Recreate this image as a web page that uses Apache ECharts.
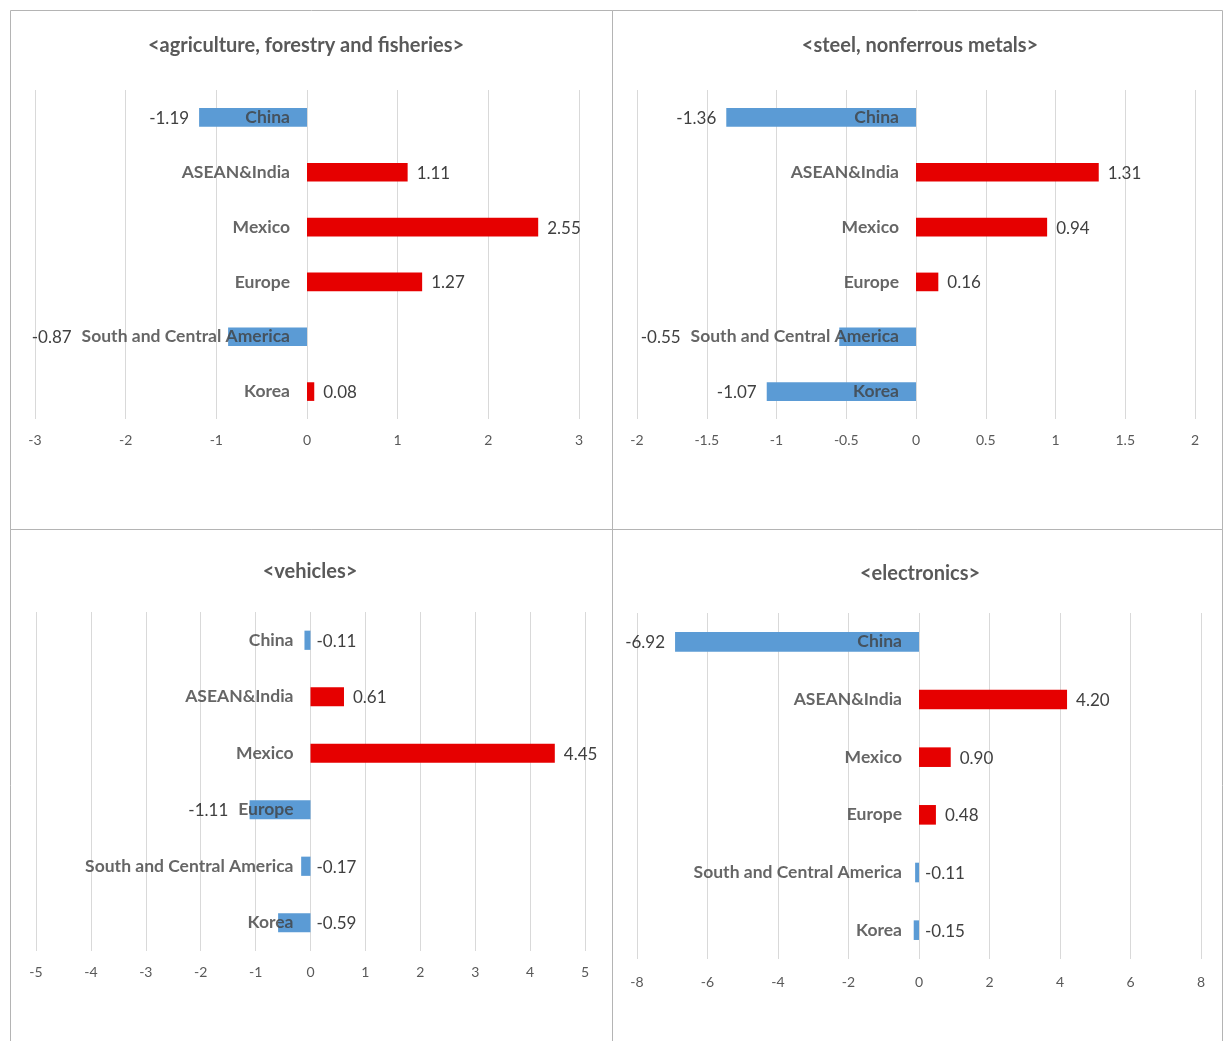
<!DOCTYPE html>
<html>
<head>
<meta charset="utf-8">
<script src="https://cdn.jsdelivr.net/npm/echarts@6/dist/echarts.min.js"></script>
<style>
html,body{margin:0;padding:0;background:#fff;}
#chart{width:1224px;height:1041px;}
</style>
</head>
<body>
<div id="chart"></div>
<script>
const categories = ['China', 'ASEAN&India', 'Mexico', 'Europe', 'South and Central America', 'Korea'];
const titles = ['<agriculture, forestry and fisheries>', '<steel, nonferrous metals>', '<vehicles>', '<electronics>'];
const agricultureValues = [-1.19, 1.11, 2.55, 1.27, -0.87, 0.08];
const steelValues = [-1.36, 1.31, 0.94, 0.16, -0.55, -1.07];
const vehicleValues = [-0.11, 0.61, 4.45, -1.11, -0.17, -0.59];
const electronicsValues = [-6.92, 4.20, 0.90, 0.48, -0.11, -0.15];
const axisMin = [-3, -2, -5, -8];
const axisMax = [3, 2, 5, 8];
const axisStep = [1, 0.5, 1, 2];

const panelValues = [agricultureValues, steelValues, vehicleValues, electronicsValues];

const FONT = "Lato, 'Noto Sans', sans-serif";
const BLUE = '#5B9BD5', RED = '#E60000';
const CAT_SIZE = 17.5, VAL_SIZE = 17, CAT_MARGIN = 17;

const grids = [
  {left: 35, right: 645, top: 90, bottom: 622},
  {left: 637, right: 29, top: 90, bottom: 622},
  {left: 36, right: 639, top: 612, bottom: 90},
  {left: 637, right: 23, top: 613, bottom: 82}
];
const titlePos = [[301, 31], [915, 31], [305, 557], [915, 559]];
const tickMargin = [14, 14, 14, 16];

const chart = echarts.init(document.getElementById('chart'));

function makeOption(labelSets) {
  return {
    backgroundColor: '#fff',
    animation: false,
    textStyle: {fontFamily: FONT},
    title: titles.map((t, i) => ({
      text: t,
      left: titlePos[i][0],
      top: titlePos[i][1],
      textAlign: 'center',
      textStyle: {fontFamily: FONT, fontSize: 20, fontWeight: 'bold', color: '#595959'}
    })),
    graphic: [
      {type: 'rect', shape: {x: 10.5, y: 10.5, width: 602, height: 519}, style: {fill: 'none', stroke: '#b4b4b4', lineWidth: 1}, z: -1},
      {type: 'rect', shape: {x: 612.5, y: 10.5, width: 610, height: 519}, style: {fill: 'none', stroke: '#b4b4b4', lineWidth: 1}, z: -1},
      {type: 'rect', shape: {x: 10.5, y: 529.5, width: 602, height: 520}, style: {fill: 'none', stroke: '#b4b4b4', lineWidth: 1}, z: -1},
      {type: 'rect', shape: {x: 612.5, y: 529.5, width: 610, height: 520}, style: {fill: 'none', stroke: '#b4b4b4', lineWidth: 1}, z: -1}
    ],
    grid: grids.map(g => Object.assign({outerBoundsMode: 'none', containLabel: false}, g)),
    xAxis: grids.map((g, i) => ({
      type: 'value',
      gridIndex: i,
      min: axisMin[i],
      max: axisMax[i],
      interval: axisStep[i],
      axisLine: {show: false},
      axisTick: {show: false},
      axisLabel: {color: '#595959', fontSize: 14, fontFamily: FONT, margin: tickMargin[i]},
      splitLine: {show: true, lineStyle: {color: '#d9d9d9', width: 1}}
    })),
    yAxis: grids.map((g, i) => ({
      type: 'category',
      gridIndex: i,
      data: categories,
      inverse: true,
      axisLine: {show: false},
      axisTick: {show: false},
      axisLabel: {show: false},
      splitLine: {show: false}
    })),
    series: panelValues.map((vals, i) => ({
      type: 'bar',
      xAxisIndex: i,
      yAxisIndex: i,
      barWidth: '34%',
      z: 2,
      data: vals.map((v, j) => ({
        value: v,
        itemStyle: {color: v < 0 ? BLUE : RED},
        label: labelSets ? labelSets[i][j] : {position: v < 0 ? 'left' : 'right', distance: 9}
      })),
      label: {
        show: true,
        color: '#404040',
        fontSize: VAL_SIZE,
        fontFamily: FONT,
        offset: [0, 1],
        formatter: p => p.value.toFixed(2)
      }
    })).concat(panelValues.map((vals, i) => ({
      // category names drawn at the zero line, right-aligned, above the bars
      type: 'scatter',
      xAxisIndex: i,
      yAxisIndex: i,
      symbolSize: 0,
      silent: true,
      z: 10,
      data: categories.map((c, j) => [0, j]),
      label: {
        show: true,
        position: 'left',
        distance: CAT_MARGIN,
        color: '#404040',
        fontSize: CAT_SIZE,
        fontWeight: 'bold',
        fontFamily: FONT,
        formatter: p => categories[p.dataIndex]
      }
    })))
  };
}

chart.setOption(makeOption(null));

// measure category label widths to place negative-value labels clear of them
const ctx = document.createElement('canvas').getContext('2d');
ctx.font = 'bold ' + CAT_SIZE + 'px ' + FONT;

const labelSets = panelValues.map((vals, i) => {
  const zeroPx = chart.convertToPixel({xAxisIndex: i}, 0);
  return vals.map((v, j) => {
    if (v >= 0) return {position: 'right', distance: 9};
    if (Math.abs(v) / axisMax[i] < 0.15) return {position: 'right', distance: 6};
    const barEnd = chart.convertToPixel({xAxisIndex: i}, v);
    const textStart = zeroPx - CAT_MARGIN - ctx.measureText(categories[j]).width;
    const target = Math.min(barEnd, textStart) - 10;
    return {position: 'left', distance: barEnd - target};
  });
});

chart.setOption(makeOption(labelSets));
</script>
</body>
</html>
